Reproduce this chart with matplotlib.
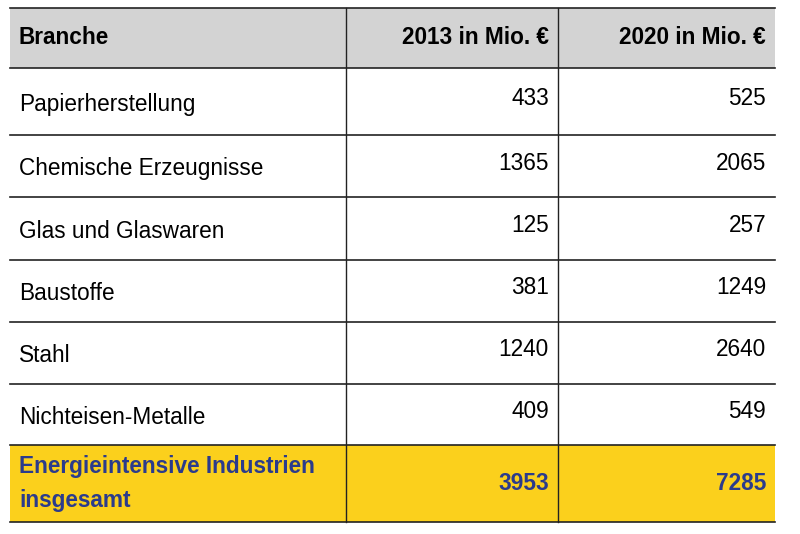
import matplotlib
matplotlib.use("Agg")
import matplotlib.pyplot as plt
from matplotlib.patches import Rectangle

headers = ["Branche", "2013 in Mio. €", "2020 in Mio. €"]
branchen = ["Papierherstellung", "Chemische Erzeugnisse", "Glas und Glaswaren",
            "Baustoffe", "Stahl", "Nichteisen-Metalle"]
werte_2013 = [433, 1365, 125, 381, 1240, 409]
werte_2020 = [525, 2065, 257, 1249, 2640, 549]
total_label = "Energieintensive Industrien\ninsgesamt"
total_2013 = 3953
total_2020 = 7285

plt.rcParams["font.family"] = "Liberation Sans"
fig = plt.figure(figsize=(8, 5.34), dpi=100)
ax = fig.add_axes([0, 0, 1, 1])
ax.set_xlim(0, 800); ax.set_ylim(534, 0); ax.axis("off")

xl, xc1, xc2, xr = 10, 346, 558, 775
rows = [8, 68, 135, 197, 260, 322, 384, 445, 522]
fs = 16.3
blue = "#2b3b8c"

ax.add_patch(Rectangle((xl, rows[0]), xr - xl, rows[1] - rows[0], color="#d3d3d3", lw=0))
ax.add_patch(Rectangle((xl, rows[7]), xr - xl, rows[8] - rows[7], color="#fbd01c", lw=0))

for y in rows:
    ax.plot([xl, xr], [y, y], color="#222", lw=1.2)
for x in (xc1, xc2):
    ax.plot([x, x], [rows[0], rows[8]], color="#222", lw=1.0)

ym = (rows[0] + rows[1]) / 2
ax.text(xl + 9, ym, headers[0], fontsize=fs, fontweight="bold", va="center")
ax.text(xc2 - 9, ym, headers[1], fontsize=fs, fontweight="bold", va="center", ha="right")
ax.text(xr - 9, ym, headers[2], fontsize=fs, fontweight="bold", va="center", ha="right")

for i, (b, a, c) in enumerate(zip(branchen, werte_2013, werte_2020)):
    top, bot = rows[i + 1], rows[i + 2]
    ym = (top + bot) / 2
    ax.text(xl + 9, ym + 3, b, fontsize=fs, va="center")
    ax.text(xc2 - 9, ym - 3, str(a), fontsize=fs, va="center", ha="right")
    ax.text(xr - 9, ym - 3, str(c), fontsize=fs, va="center", ha="right")

ym = (rows[7] + rows[8]) / 2
ax.text(xl + 9, ym, total_label, fontsize=fs, fontweight="bold", va="center",
        color=blue, linespacing=1.6)
ax.text(xc2 - 9, ym, str(total_2013), fontsize=fs, fontweight="bold", va="center", ha="right", color=blue)
ax.text(xr - 9, ym, str(total_2020), fontsize=fs, fontweight="bold", va="center", ha="right", color=blue)

fig.savefig("out.png", dpi=100)
